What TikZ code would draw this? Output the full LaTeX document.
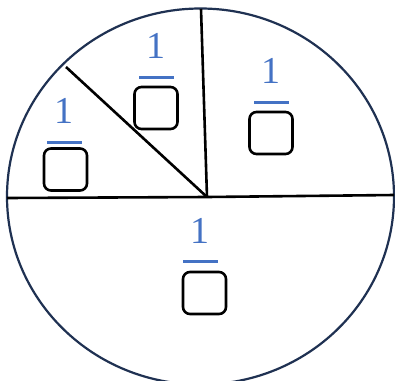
\documentclass[tikz,border=0pt]{standalone}
\usepackage{fontspec}
\setmainfont{Liberation Serif}
\definecolor{rimnavy}{HTML}{1F3152}
\definecolor{fracblue}{HTML}{4472C4}
\begin{document}
\begin{tikzpicture}[x=1pt,y=-1pt,
  numeral/.style={text=fracblue, inner sep=0pt, font=\fontsize{38}{38}\selectfont},
  fracbar/.style={fill=fracblue, draw=none, inner sep=0pt, minimum width=35pt, minimum height=3pt},
  answerbox/.style={draw=black, line width=2.6pt, rounded corners=7pt, inner sep=0pt,
    minimum width=43pt, minimum height=42pt},
  cut/.style={draw=black, line width=2.6pt}]
  \useasboundingbox (0,0) rectangle (395,380);
  \clip (0,0) rectangle (395,380);
  \fill[white] (0,0) rectangle (395,380);

  % outer rim
  \draw[rimnavy, line width=2.2pt] (200.5,196.5) ellipse [x radius=193.5, y radius=188];

  % cuts through the disc
  \coordinate (hub) at (207,197);
  \coordinate (west) at (7,198);
  \coordinate (east) at (394,195);
  \coordinate (north) at (201,9);
  \coordinate (northwest) at (66,67);
  \draw[cut] (west) -- (hub) -- (east);
  \draw[cut] (hub) -- (north);
  \draw[cut] (hub) -- (northwest);

  % upper middle sector
  \node[numeral] (n1) at (156,46) {1};
  \node[fracbar] (b1) at (156.5,77.5) {};
  \node[answerbox] (d1) at (156,108) {};

  % upper right sector
  \node[numeral] (n2) at (270.5,70.5) {1};
  \node[fracbar] (b2) at (271.5,102) {};
  \node[answerbox] (d2) at (271,133) {};

  % left sector
  \node[numeral] (n3) at (64,111) {1};
  \node[fracbar] (b3) at (64.5,142.5) {};
  \node[answerbox] (d3) at (65.5,169.5) {};

  % lower half
  \node[numeral] (n4) at (200,231) {1};
  \node[fracbar] (b4) at (200.5,261.5) {};
  \node[answerbox] (d4) at (204.5,293) {};
\end{tikzpicture}
\end{document}
